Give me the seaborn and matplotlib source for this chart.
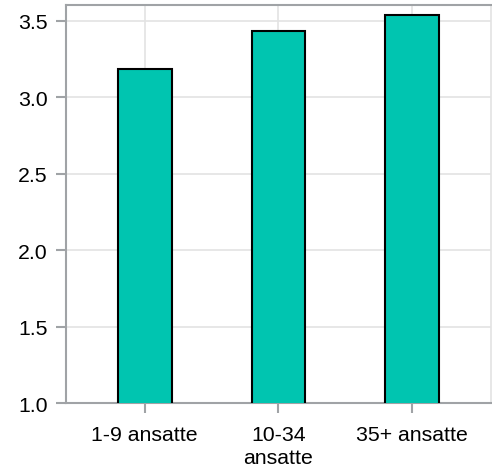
import seaborn as sns
import pandas as pd
import matplotlib
matplotlib.use("Agg")
import matplotlib.pyplot as plt

categories = ["1-9 ansatte", "10-34\nansatte", "35+ ansatte"]
values = [3.185, 3.43, 3.535]
yticks = [1.0, 1.5, 2.0, 2.5, 3.0, 3.5]

df = pd.DataFrame({"group": categories, "score": values})

sns.set_style("white")
plt.rcParams["font.family"] = ["Liberation Sans", "DejaVu Sans"]

fig = plt.figure(figsize=(4.92, 4.77), dpi=100)
ax = fig.add_axes([0.134, 0.153, 0.864, 0.834])

sns.barplot(data=df, x="group", y="score", color="#00c5b0", saturation=1,
            width=0.4, edgecolor="black", linewidth=1.5, ax=ax, zorder=3)

ax.set_ylim(1.0, 3.6)
ax.set_xlim(-0.59, 2.59)
ax.set_yticks(yticks)
ax.set_yticklabels([f"{t:.1f}" for t in yticks])
ax.set_xlabel("")
ax.set_ylabel("")

ax.grid(True, color="#e3e3e3", linewidth=1.2, zorder=0)
ax.set_axisbelow(True)
for side in ["left", "bottom", "top"]:
    ax.spines[side].set_visible(True)
    ax.spines[side].set_color("#a0a3a6")
    ax.spines[side].set_linewidth(1.5)
ax.spines["right"].set_visible(True)
ax.spines["right"].set_color("#e3e3e3")
ax.spines["right"].set_linewidth(1.2)

ax.tick_params(axis="both", which="major", labelsize=15.3, colors="#a0a3a6",
               labelcolor="black", length=7, width=1.5, direction="out")
ax.tick_params(axis="x", pad=9, bottom=True)
ax.tick_params(axis="y", pad=6, left=True)
for lbl in ax.get_xticklabels():
    lbl.set_linespacing(1.25)

fig.savefig("out.png", dpi=100)
